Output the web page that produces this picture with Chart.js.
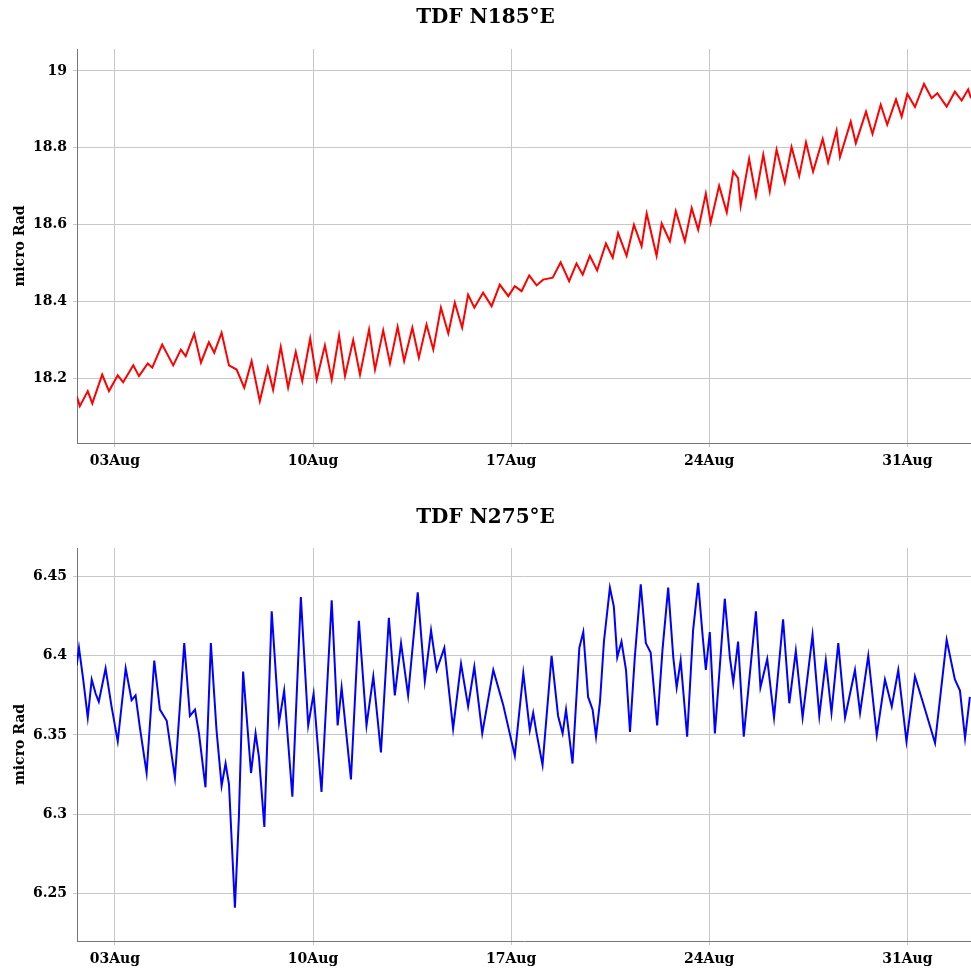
<!DOCTYPE html>
<html>
<head>
<meta charset="utf-8">
<script src="https://cdn.jsdelivr.net/npm/chart.js@4"></script>
<style>
  body { margin: 0; background: #fff; }
  .box { position: relative; width: 971px; }
</style>
</head>
<body>
<div class="box" style="height:485px"><canvas id="chartN185"></canvas></div>
<div class="box" style="height:484px"><canvas id="chartN275"></canvas></div>
<script>
// day of August (fractional) for each sample
const dayTicks = [3, 10, 17, 24, 31];
const dayLabels = ["03Aug", "10Aug", "17Aug", "24Aug", "31Aug"];

const days185 = [
  1.65, 1.76, 2.04, 2.20, 2.55, 2.79, 3.10, 3.29, 3.65, 3.85, 4.16, 4.32, 4.67, 5.06, 5.33, 5.50,
  5.80, 6.04, 6.32, 6.51, 6.77, 7.03, 7.30, 7.57, 7.83, 8.12, 8.40, 8.59, 8.86, 9.12, 9.39, 9.62,
  9.90, 10.13, 10.42, 10.66, 10.92, 11.13, 11.42, 11.66, 11.98, 12.19, 12.48, 12.72, 12.99, 13.22,
  13.51, 13.74, 14.01, 14.25, 14.52, 14.78, 15.01, 15.27, 15.48, 15.70, 16.01, 16.31, 16.60, 16.90,
  17.13, 17.37, 17.64, 17.90, 18.13, 18.47, 18.75, 19.05, 19.31, 19.53, 19.78, 20.04, 20.35, 20.59,
  20.78, 21.08, 21.34, 21.61, 21.79, 22.14, 22.32, 22.61, 22.82, 23.14, 23.38, 23.61, 23.88, 24.05,
  24.35, 24.62, 24.85, 25.02, 25.11, 25.41, 25.65, 25.91, 26.14, 26.38, 26.67, 26.91, 27.18, 27.42,
  27.67, 28.01, 28.20, 28.50, 28.62, 29.00, 29.18, 29.54, 29.77, 30.06, 30.29, 30.60, 30.80, 31.00,
  31.27, 31.59, 31.86, 32.06, 32.39, 32.68, 32.92, 33.15, 33.25
];
const tilt185 = [
  18.154, 18.128, 18.167, 18.135, 18.210, 18.167, 18.208, 18.190, 18.234, 18.206, 18.239, 18.228,
  18.288, 18.234, 18.275, 18.258, 18.316, 18.241, 18.294, 18.267, 18.319, 18.234, 18.223, 18.176,
  18.245, 18.141, 18.228, 18.170, 18.282, 18.176, 18.269, 18.193, 18.304, 18.197, 18.286, 18.197,
  18.312, 18.206, 18.300, 18.210, 18.327, 18.223, 18.325, 18.239, 18.334, 18.245, 18.332, 18.254,
  18.340, 18.275, 18.384, 18.317, 18.397, 18.332, 18.418, 18.384, 18.423, 18.388, 18.444, 18.414,
  18.440, 18.427, 18.468, 18.442, 18.457, 18.462, 18.502, 18.453, 18.499, 18.470, 18.519, 18.481,
  18.551, 18.514, 18.578, 18.519, 18.600, 18.544, 18.629, 18.519, 18.603, 18.557, 18.635, 18.557,
  18.643, 18.587, 18.681, 18.606, 18.701, 18.632, 18.738, 18.721, 18.649, 18.771, 18.675, 18.782,
  18.687, 18.795, 18.710, 18.802, 18.727, 18.814, 18.738, 18.823, 18.762, 18.845, 18.776, 18.868,
  18.812, 18.894, 18.836, 18.912, 18.860, 18.926, 18.881, 18.940, 18.906, 18.966, 18.929, 18.942,
  18.907, 18.946, 18.923, 18.952, 18.929
];

const days275 = [
  1.65, 1.73, 1.88, 2.04, 2.18, 2.32, 2.43, 2.67, 2.88, 3.10, 3.38, 3.59, 3.73, 3.88, 4.12, 4.39,
  4.59, 4.83, 5.12, 5.45, 5.65, 5.83, 5.97, 6.20, 6.39, 6.59, 6.77, 6.91, 7.03, 7.24, 7.38, 7.53,
  7.81, 7.97, 8.09, 8.28, 8.54, 8.80, 8.98, 9.27, 9.57, 9.83, 10.02, 10.30, 10.66, 10.87, 11.01,
  11.34, 11.62, 11.89, 12.13, 12.40, 12.68, 12.89, 13.11, 13.36, 13.70, 13.95, 14.17, 14.37, 14.64,
  14.95, 15.23, 15.48, 15.70, 15.98, 16.37, 16.72, 17.13, 17.43, 17.66, 17.78, 17.90, 18.11, 18.43,
  18.66, 18.82, 18.94, 19.17, 19.41, 19.55, 19.72, 19.88, 20.00, 20.14, 20.28, 20.49, 20.63, 20.75,
  20.90, 21.06, 21.20, 21.37, 21.58, 21.76, 21.93, 22.16, 22.35, 22.55, 22.73, 22.85, 22.99, 23.22,
  23.43, 23.61, 23.77, 23.88, 24.02, 24.20, 24.55, 24.73, 24.85, 25.02, 25.22, 25.65, 25.81, 26.05,
  26.29, 26.61, 26.83, 27.06, 27.30, 27.65, 27.89, 28.12, 28.32, 28.56, 28.80, 29.15, 29.33, 29.62,
  29.92, 30.21, 30.45, 30.68, 30.97, 31.27, 31.56, 31.98, 32.39, 32.68, 32.86, 33.04, 33.21
];
const tilt275 = [
  6.394, 6.405, 6.385, 6.361, 6.385, 6.376, 6.371, 6.392, 6.368, 6.346, 6.392, 6.372, 6.375, 6.355,
  6.326, 6.397, 6.366, 6.359, 6.323, 6.408, 6.362, 6.366, 6.351, 6.317, 6.408, 6.353, 6.318, 6.332,
  6.319, 6.241, 6.298, 6.390, 6.326, 6.351, 6.336, 6.292, 6.428, 6.358, 6.378, 6.311, 6.437, 6.356,
  6.376, 6.314, 6.435, 6.356, 6.380, 6.322, 6.422, 6.356, 6.387, 6.339, 6.424, 6.375, 6.408, 6.375,
  6.440, 6.384, 6.416, 6.391, 6.405, 6.354, 6.395, 6.368, 6.393, 6.351, 6.391, 6.369, 6.337, 6.389,
  6.353, 6.364, 6.351, 6.331, 6.400, 6.362, 6.351, 6.366, 6.332, 6.405, 6.415, 6.374, 6.366, 6.349,
  6.371, 6.409, 6.443, 6.431, 6.399, 6.409, 6.391, 6.352, 6.399, 6.445, 6.408, 6.402, 6.356, 6.404,
  6.443, 6.399, 6.380, 6.397, 6.349, 6.416, 6.446, 6.412, 6.391, 6.415, 6.351, 6.436, 6.399, 6.383,
  6.409, 6.349, 6.428, 6.380, 6.398, 6.361, 6.423, 6.370, 6.403, 6.361, 6.413, 6.362, 6.397, 6.364,
  6.408, 6.361, 6.391, 6.364, 6.400, 6.350, 6.385, 6.368, 6.391, 6.346, 6.387, 6.370, 6.345, 6.410,
  6.385, 6.378, 6.348, 6.374
];

const yTicks185 = [18.2, 18.4, 18.6, 18.8, 19];
const yTicks275 = [6.25, 6.3, 6.35, 6.4, 6.45];

const FONT = "'DejaVu Serif', 'Liberation Serif', serif";

function makeChart(id, title, days, values, color, yMin, yMax, yTicks, titlePad, xHeight) {
  const points = days.map((d, i) => ({ x: d, y: values[i] }));
  return new Chart(document.getElementById(id), {
    type: "line",
    data: {
      datasets: [{
        data: points,
        borderColor: color,
        borderWidth: 2,
        pointRadius: 0,
        tension: 0,
        fill: false,
      }],
    },
    options: {
      responsive: true,
      maintainAspectRatio: false,
      animation: false,
      layout: { padding: 0 },
      plugins: {
        legend: { display: false },
        tooltip: { enabled: false },
        title: {
          display: true,
          text: title,
          color: "#000",
          font: { family: FONT, size: 20, weight: "bold" },
          padding: titlePad,
        },
      },
      scales: {
        x: {
          type: "linear",
          min: 1.66,
          max: 33.25,
          afterBuildTicks: (axis) => { axis.ticks = dayTicks.map((v) => ({ value: v })); },
          afterFit: (axis) => { axis.height = xHeight; },
          grid: { color: "#c8c8c8", tickLength: 4 },
          border: { color: "#777", width: 1 },
          ticks: {
            color: "#000",
            maxRotation: 0,
            autoSkip: false,
            padding: 6,
            font: { family: FONT, size: 14, weight: "bold" },
            callback: (v) => dayLabels[dayTicks.indexOf(v)],
          },
        },
        y: {
          min: yMin,
          max: yMax,
          afterBuildTicks: (axis) => { axis.ticks = yTicks.map((v) => ({ value: v })); },
          afterFit: (axis) => { axis.width = 77; },
          grid: { color: "#c8c8c8", tickLength: 4 },
          border: { color: "#777", width: 1 },
          title: {
            display: true,
            text: "micro Rad",
            color: "#000",
            font: { family: FONT, size: 14, weight: "bold" },
            padding: { top: 12, bottom: 0 },
          },
          ticks: {
            color: "#000",
            padding: 6,
            font: { family: FONT, size: 14, weight: "bold" },
            callback: (v) => String(v),
          },
        },
      },
    },
  });
}

makeChart("chartN185", "TDF N185°E", days185, tilt185, "#ff0000",
  18.032, 19.057, yTicks185, { top: 6, bottom: 19 }, 42);
makeChart("chartN275", "TDF N275°E", days275, tilt275, "#0000ff",
  6.220, 6.468, yTicks275, { top: 21, bottom: 18 }, 28);
</script>
</body>
</html>
